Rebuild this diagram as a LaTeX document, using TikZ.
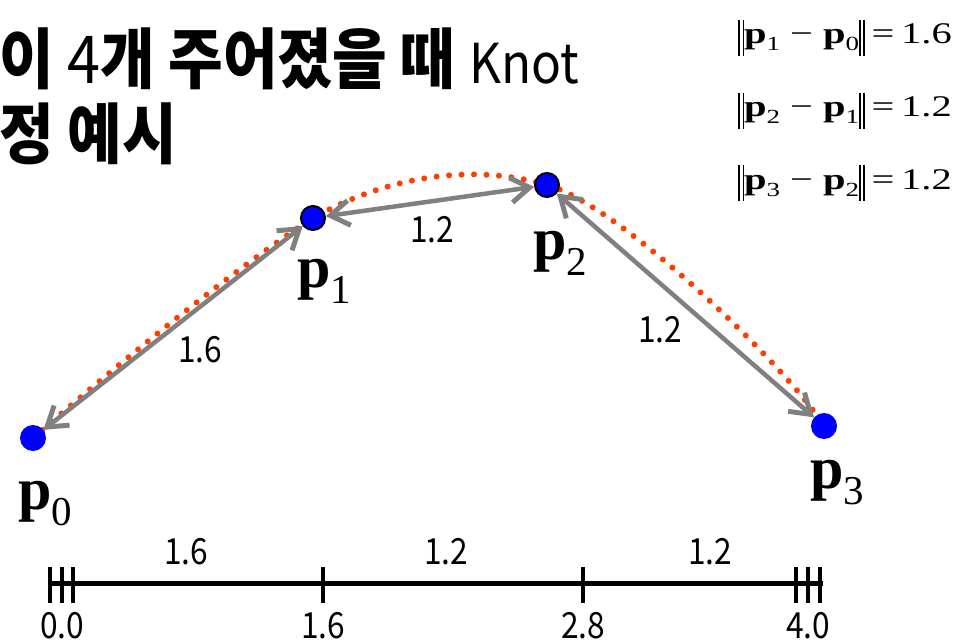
\documentclass[tikz,border=0pt]{standalone}
\usepackage{fontspec}
\setmainfont{Liberation Serif}
\newfontfamily\krfont[FakeStretch=0.9]{Noto Sans CJK KR}
\newfontfamily\numfont[FakeStretch=0.88]{Noto Sans CJK KR}
\usepackage{xcolor}
\usepackage{tikz}
\usetikzlibrary{arrows.meta,calc,positioning}
\definecolor{knotblue}{HTML}{0000FF}
\definecolor{arrowgray}{HTML}{808080}
\definecolor{curvered}{HTML}{FF3D00}
\pgfdeclarelayer{back}
\pgfsetlayers{back,main}
\newcommand{\pbig}[1]{{\fontsize{60}{60}\selectfont\bfseries p}\raisebox{-16pt}{\fontsize{41}{41}\selectfont #1}}
\newcommand{\psmall}[1]{{\bfseries p}\raisebox{-7pt}{\fontsize{20}{20}\selectfont #1}}
\newcommand{\normbar}{\rule[-12pt]{1.1pt}{36pt}\hspace{2pt}\rule[-12pt]{1.1pt}{36pt}}
\newcommand{\normrow}[3]{\scalebox{1.35}[1]{\normbar\psmall{#1} − \psmall{#2}\normbar\,=\,#3}}
\tikzset{
  knot/.style={circle,fill=knotblue,minimum size=26pt,inner sep=0pt},
  knotring/.style={knot,draw=black,line width=2pt,minimum size=24pt},
  ptlabel/.style={anchor=base west,inner sep=0pt},
  normline/.style={anchor=base east,inner sep=0pt,font=\fontsize{30}{30}\selectfont},
  title/.style={anchor=base west,inner sep=0pt,font=\krfont\bfseries\fontsize{66}{66}\selectfont},
  seglen/.style={inner sep=0pt,font=\numfont\fontsize{36}{36}\selectfont},
  distarrow/.style={{Straight Barb[length=19pt,width=25pt,line width=0pt 1.1]}-{Straight Barb[length=19pt,width=25pt,line width=0pt 1.1]},draw=arrowgray,line width=4.5pt,line cap=round},
  knotcurve/.style={draw=curvered,line width=6pt,line cap=round,dash pattern=on 0pt off 12.5pt},
  axisline/.style={draw=black,line width=5pt},
  axistick/.style={draw=black,line width=4pt}
}

\begin{document}
\begin{tikzpicture}[x=1pt,y=-1pt]
  \useasboundingbox (0,0) rectangle (970,642);
  % title, cut at the left edge
  \node[title] (title1) at (-1,84) {이 {\mdseries 4}개 주어졌을 때 {\mdseries\fontsize{55}{55}\selectfont Knot}};
  \node[title] (title2) at (-1,158) {정 예시};
  % distances
  \node[normline] (n10) at (952,44) {\normrow{1}{0}{1.6}};
  \node[normline] (n21) at (952,117) {\normrow{2}{1}{1.2}};
  \node[normline] (n32) at (952,189) {\normrow{3}{2}{1.2}};
  % knots
  \node[knot] (p0) at (33,438) {};
  \node[knotring] (p1) at (313,218) {};
  \node[knotring] (p2) at (547,185) {};
  \node[knot] (p3) at (824,426) {};
  \node[ptlabel] (l0) at (18,509) {\pbig{0}};
  \node[ptlabel] (l1) at (297,287) {\pbig{1}};
  \node[ptlabel] (l2) at (533,259) {\pbig{2}};
  \node[ptlabel] (l3) at (810,488) {\pbig{3}};
  \begin{pgfonlayer}{back}
    \draw[knotcurve] (p0.center) .. controls (123,360) and (230,272) .. (p1.center)
      .. controls (395,172) and (480,165) .. (p2.center)
      .. controls (620,205) and (790,370) .. (p3.center);
    \draw[distarrow] (p0) -- (p1);
    \draw[distarrow] (p1) -- (p2);
    \draw[distarrow] (p2) -- (p3);
  \end{pgfonlayer}
  \node[seglen] (d01) at (200,350) {1.6};
  \node[seglen] (d12) at (432,230) {1.2};
  \node[seglen] (d23) at (660,330) {1.2};
  % knot axis
  \coordinate (a0) at (50,583);
  \coordinate (a4) at (823,583);
  \draw[axisline] (a0) -- (a4);
  \foreach \x in {50,62,73,323,583,796,808,820}
    \draw[axistick] (\x,567) -- (\x,603);
  \foreach \x/\t in {62/0.0,323/1.6,583/2.8,808/4.0}
    \node[seglen] (k\x) at (\x,626) {\t};
  \foreach \x/\t in {186/1.6,446/1.2,710/1.2}
    \node[seglen] (s\x) at (\x,552) {\t};
\end{tikzpicture}
\end{document}
